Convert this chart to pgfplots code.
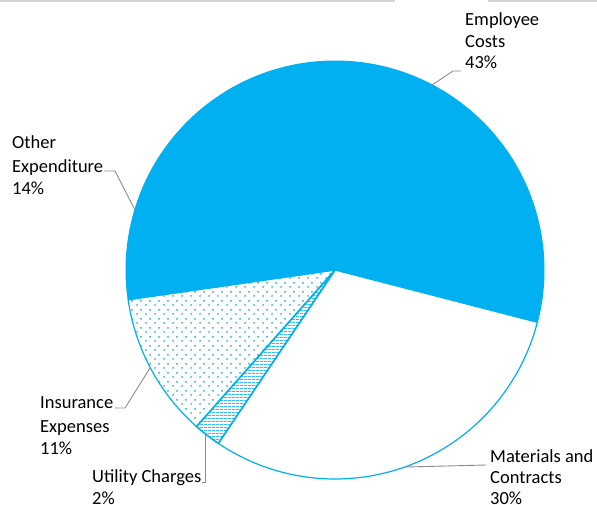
\documentclass[border=0pt]{standalone}
\usepackage{pgfplots}
\pgfplotsset{compat=1.18}
\usepackage{pgfplotstable}
\usepackage{fontspec}
\setmainfont{Carlito}
\usetikzlibrary{patterns.meta}
\definecolor{pieblue}{HTML}{00B0F0}
\definecolor{dotcol}{HTML}{22AFC8}
\definecolor{leader}{HTML}{8C8C8C}
\tikzdeclarepattern{
  name=sparsedots,
  type=uncolored,
  bottom left={(0bp,0bp)},
  top right={(9bp,9bp)},
  tile size={(9bp,9bp)},
  code={\fill (2.25bp,2.25bp) circle (1.1bp); \fill (6.75bp,6.75bp) circle (1.1bp);}
}
\tikzdeclarepattern{
  name=hstripes,
  type=uncolored,
  bottom left={(0bp,0bp)},
  top right={(4bp,3.4bp)},
  tile size={(4bp,3.4bp)},
  code={\draw[line width=0.9bp] (-0.2bp,1.7bp) -- (4.2bp,1.7bp);}
}
\tikzset{
  slice0/.style={fill=pieblue, draw=pieblue, line width=1bp},
  slice1/.style={fill=white, draw=pieblue, line width=1.2bp},
  slice2/.style={pattern={hstripes}, pattern color=pieblue!80, draw=pieblue, line width=1.6bp},
  slice3/.style={pattern={sparsedots}, pattern color=dotcol, draw=pieblue, line width=1.2bp},
  slice4/.style={fill=pieblue, draw=pieblue, line width=1bp},
  lbl/.style={anchor=base west, inner sep=0pt, font=\fontsize{18.5bp}{22bp}\selectfont},
  lead/.style={draw=leader, line width=0.9bp},
}
\pgfplotstableread{
label pct
Employee 42.7
Materials 30.4
Utility 2.1
Insurance 11.2
Other 13.6
}\piedata
\begin{document}
\begin{tikzpicture}
\begin{axis}[x=1bp, y=1bp, xmin=0, xmax=597, ymin=0, ymax=516, y dir=reverse,
  hide axis, clip=false, scale only axis]
\fill[black!17] (axis cs:0,0) rectangle (axis cs:395,2.2);
\fill[black!17] (axis cs:488,0) rectangle (axis cs:597,2.2);
\def\cum{0}
\pgfplotsforeachungrouped \i in {0,...,4}{%
  \pgfplotstablegetelem{\i}{pct}\of\piedata
  \pgfmathsetmacro{\sa}{139.22 - 3.6*\cum}%
  \pgfmathsetmacro{\sb}{\sa - 3.6*\pgfplotsretval}%
  \pgfmathsetmacro{\cum}{\cum + \pgfplotsretval}%
  \edef\temp{\noexpand\draw[slice\i, line join=round] (axis cs:335,270) -- ++(\sa:209bp) arc[start angle=\sa, end angle=\sb, radius=209bp] -- cycle;}%
  \temp
}
% leader lines
\draw[lead] (axis cs:432,85) -- (axis cs:453,71) -- (axis cs:461,71);
\draw[lead] (axis cs:135,210) -- (axis cs:115,171) -- (axis cs:104,171);
\draw[lead] (axis cs:150,368) -- (axis cs:125,408) -- (axis cs:115,408);
\draw[lead] (axis cs:205,435) -- (axis cs:205,482) -- (axis cs:202,482);
\draw[lead] (axis cs:405,467) -- (axis cs:486,465);
% labels
\node[lbl] at (axis cs:465,25) {Employee};
\node[lbl] at (axis cs:465,47) {Costs};
\node[lbl] at (axis cs:465,68) {43\%};
\node[lbl] at (axis cs:12,148) {Other};
\node[lbl] at (axis cs:12,172) {Expenditure};
\node[lbl] at (axis cs:12,194) {14\%};
\node[lbl] at (axis cs:40,408) {Insurance};
\node[lbl] at (axis cs:40,432) {Expenses};
\node[lbl] at (axis cs:40,454) {11\%};
\node[lbl] at (axis cs:92,482) {Utility Charges};
\node[lbl] at (axis cs:92,504) {2\%};
\node[lbl] at (axis cs:490,462) {Materials and};
\node[lbl] at (axis cs:490,483) {Contracts};
\node[lbl] at (axis cs:490,504) {30\%};
\end{axis}
\end{tikzpicture}
\end{document}
